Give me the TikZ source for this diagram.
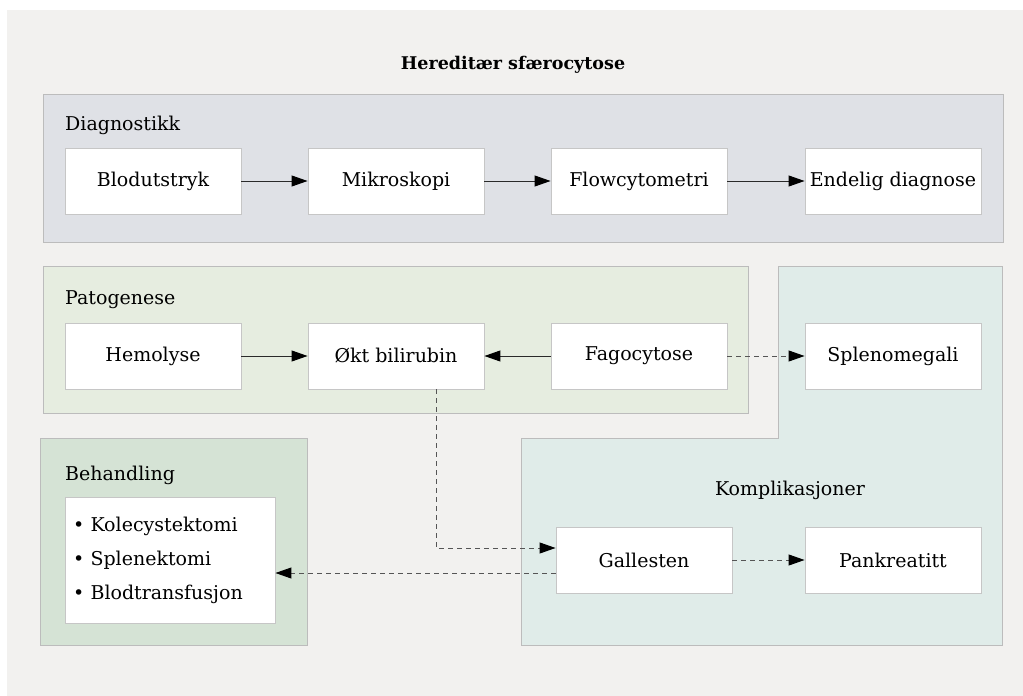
\documentclass[tikz,border=0pt]{standalone}
\usepackage{fontspec}
\setmainfont{DejaVu Serif}
\usetikzlibrary{arrows.meta}
\definecolor{pagebg}{HTML}{F2F1EF}
\definecolor{diagbg}{HTML}{DFE1E6}
\definecolor{patobg}{HTML}{E6EDE0}
\definecolor{kompbg}{HTML}{E0ECE9}
\definecolor{behbg}{HTML}{D5E3D5}
\definecolor{boxline}{HTML}{C6C6C6}
\definecolor{grpline}{HTML}{BCBCBC}
\definecolor{arr}{HTML}{2A2A2A}
\definecolor{darr}{HTML}{555555}
\begin{document}
\begin{tikzpicture}[x=1pt,y=-1pt,
  box/.style={draw=boxline, fill=white, line width=0.9pt, minimum width=176pt, minimum height=66pt, inner sep=0pt, font=\fontsize{19}{22}\selectfont, text=black},
  group/.style={draw=grpline, line width=0.9pt},
  glabel/.style={anchor=base west, font=\fontsize{19}{22}\selectfont, inner sep=0pt, text=black},
  flow/.style={draw=arr, line width=1pt, -{Triangle[length=16pt,width=11pt,color=black]}},
  dflow/.style={draw=darr, line width=1pt, dash pattern=on 5pt off 4pt, -{Triangle[length=16pt,width=11pt,color=black]}}]
\fill[white] (0,0) rectangle (1023,696);
\fill[pagebg] (7,10) rectangle (1023,696);
\node[anchor=base, font=\bfseries\fontsize{17.5}{20}\selectfont, inner sep=0pt] (title) at (513,69) {Hereditær sfærocytose};
% groups
\draw[group, fill=diagbg] (43,94) rectangle (1003,242);
\draw[group, fill=patobg] (43,266) rectangle (748,413);
\draw[group, fill=kompbg] (521,438) -- (778,438) -- (778,266) -- (1002,266) -- (1002,645) -- (521,645) -- cycle;
\draw[group, fill=behbg] (40,438) rectangle (307,645);
\node[glabel] (gdiag) at (65,130) {Diagnostikk};
\node[glabel] (gpato) at (65,304) {Patogenese};
\node[glabel] (gbeh) at (65,480) {Behandling};
\node[glabel, anchor=base] (gkomp) at (790,495) {Komplikasjoner};
% nodes
\node[box] (blod) at (153,181) {Blodutstryk};
\node[box] (mikro) at (396,181) {Mikroskopi};
\node[box] (flow) at (639,181) {Flowcytometri};
\node[box] (endelig) at (893,181) {Endelig diagnose};
\node[box] (hemo) at (153,356) {Hemolyse};
\node[box] (okt) at (396,356) {Økt bilirubin};
\node[box] (fago) at (639,356) {Fagocytose};
\node[box] (splen) at (893,356) {Splenomegali};
\node[box] (gall) at (644,560) {Gallesten};
\node[box] (pank) at (893,560) {Pankreatitt};
\node[box, minimum width=210pt, minimum height=126pt, text width=194pt, inner xsep=8pt, align=left, font=\fontsize{19}{34}\selectfont] (list) at (170,560) {\textbullet\ Kolecystektomi\\\textbullet\ Splenektomi\\\textbullet\ Blodtransfusjon};
% connectors
\draw[flow] (blod) -- (mikro);
\draw[flow] (mikro) -- (flow);
\draw[flow] (flow) -- (endelig);
\draw[flow] (hemo) -- (okt);
\draw[flow] (fago) -- (okt);
\draw[dflow] (fago) -- (splen);
\draw[dflow] (gall) -- (pank);
\draw[dflow] ([xshift=40pt]okt.south) |- ([yshift=12pt]gall.west);
\draw[dflow] ([yshift=-13pt]gall.west) -- ([yshift=-13pt]gall.west -| list.east);
\end{tikzpicture}
\end{document}
